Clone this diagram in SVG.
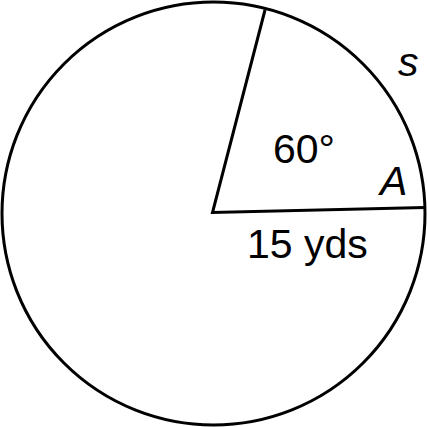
<svg xmlns="http://www.w3.org/2000/svg" width="427" height="427" viewBox="0 0 427 427">
<style>
.ln{fill:none;stroke:#000;stroke-width:3;stroke-linejoin:miter}
.t{font-family:"Liberation Sans",Arial,sans-serif;font-size:41px;fill:#000}
.i{font-style:italic}
</style>
<rect width="427" height="427" fill="#fff"/>
<g id="circle"><circle class="ln" cx="213.5" cy="213.5" r="211.5"/></g>
<g id="connectors">
<polyline class="ln" points="265,10 212.5,212.5 425,207.5"/>
</g>
<g id="labels">
<text class="t" x="273" y="163">60°</text>
<text class="t" x="247" y="258">15 yds</text>
<text class="t i" x="380" y="195">A</text>
<text class="t i" x="398" y="76">s</text>
</g>
</svg>
